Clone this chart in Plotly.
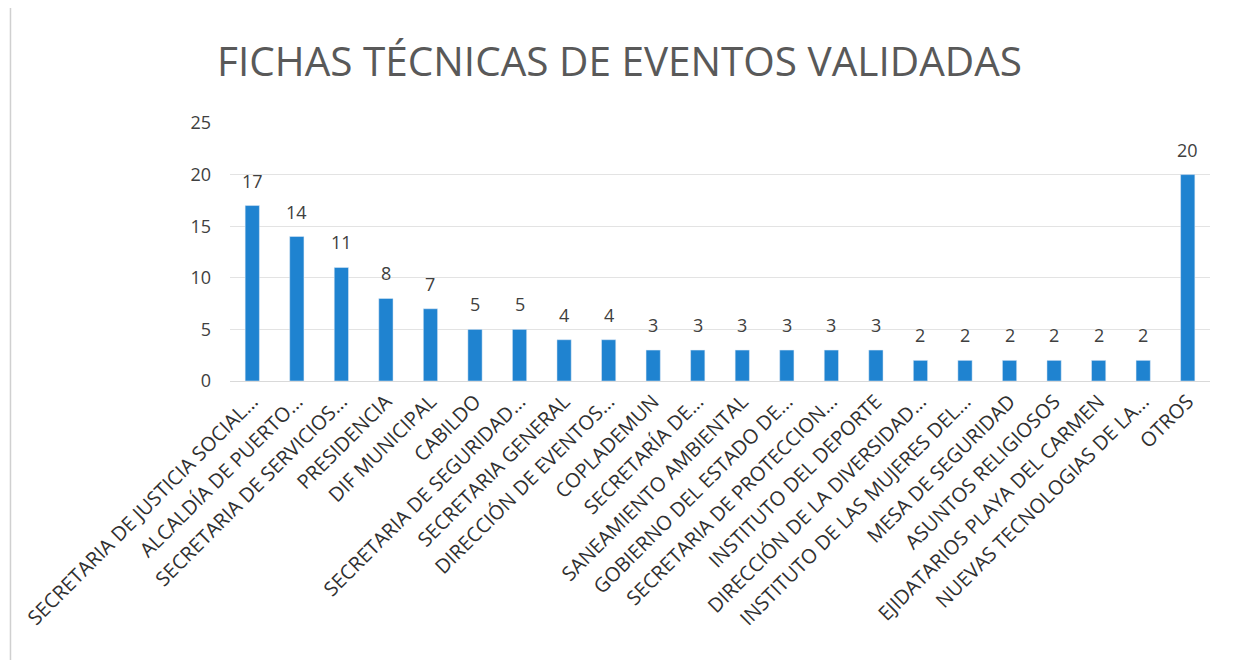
import plotly.graph_objects as go

categorias = [
    "SECRETARIA DE JUSTICIA SOCIAL...",
    "ALCALDÍA DE PUERTO...",
    "SECRETARIA DE SERVICIOS...",
    "PRESIDENCIA",
    "DIF MUNICIPAL",
    "CABILDO",
    "SECRETARIA DE SEGURIDAD...",
    "SECRETARIA GENERAL",
    "DIRECCIÓN DE EVENTOS...",
    "COPLADEMUN",
    "SECRETARÍA DE...",
    "SANEAMIENTO AMBIENTAL",
    "GOBIERNO DEL ESTADO DE...",
    "SECRETARIA DE PROTECCION...",
    "INSTITUTO DEL DEPORTE",
    "DIRECCIÓN DE LA DIVERSIDAD...",
    "INSTITUTO DE LAS MUJERES DEL...",
    "MESA DE SEGURIDAD",
    "ASUNTOS RELIGIOSOS",
    "EJIDATARIOS PLAYA DEL CARMEN",
    "NUEVAS TECNOLOGIAS DE LA...",
    "OTROS",
]
fichas = [17, 14, 11, 8, 7, 5, 5, 4, 4, 3, 3, 3, 3, 3, 3, 2, 2, 2, 2, 2, 2, 20]

fuente = "Open Sans"

fig = go.Figure(go.Bar(
    x=categorias,
    y=fichas,
    marker_color="#1f83d0",
    cliponaxis=False,
))

# etiquetas de datos un poco separadas de la barra
for cat, val in zip(categorias, fichas):
    fig.add_annotation(x=cat, y=val, text=str(val), showarrow=False,
                       yanchor="bottom", yshift=11,
                       font=dict(family=fuente, size=18, color="#404040"))

# la página deja 8 px de margen en el body, se compensa aquí
fig.update_layout(
    width=1238, height=660,
    paper_bgcolor="white", plot_bgcolor="white",
    margin=dict(l=222, r=36, t=115, b=287),
    bargap=0.68,
    showlegend=False,
    title=dict(text="FICHAS TÉCNICAS DE EVENTOS VALIDADAS",
               x=0.494, xanchor="center", y=0.918, yanchor="middle",
               font=dict(family=fuente, size=40.5, color="#595959")),
)
fig.update_xaxes(tickangle=-45, automargin=False,
                 tickfont=dict(family=fuente, size=20, color="#303030"),
                 showline=True, linecolor="#d9d9d9", ticks="")
fig.update_yaxes(range=[0, 25], dtick=5, showgrid=True, gridcolor="#e3e3e3",
                 zeroline=False, ticks="", ticklabelstandoff=18, automargin=False,
                 tickfont=dict(family=fuente, size=18, color="#404040"))

# marco tenue del escaneo
fig.add_shape(type="line", xref="paper", yref="paper", x0=-0.224, x1=-0.224, y0=-1.2, y1=1.5,
              line=dict(color="#d0d0d0", width=1.5))

fig.write_html("out.html")
